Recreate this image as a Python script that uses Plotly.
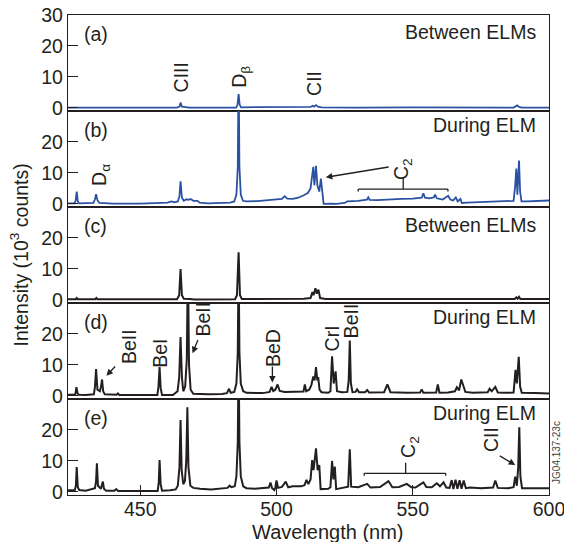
import plotly.graph_objects as go

# ---------------- data (wavelength nm, intensity 10^3 counts) ----------------
wl_a = [423.5, 440, 463.5, 464.4, 464.8, 465.3, 466, 467.5, 468, 485.2, 485.7, 486.1, 486.5, 487,
        510, 512.5, 513.3, 513.8, 514.5, 515.2, 516.5, 530, 550, 587, 588.3, 589, 590, 600]
int_a = [0.1, 0.1, 0.1, 0.4, 1.7, 0.4, 0.3, 0.3, 0.1, 0.1, 1.0, 4.5, 1.0, 0.2,
         0.2, 0.3, 0.7, 0.4, 0.9, 0.4, 0.2, 0.1, 0.2, 0.1, 0.8, 0.3, 0.1, 0.1]

wl_b = [423.5, 425.8, 426.3, 426.7, 427.1, 427.6, 432.8, 433.4, 433.8, 434.3, 435, 440, 450, 458, 460,
        461.5, 462.5, 463.8, 464.4, 464.8, 465.3, 466, 467, 467.8, 468.5, 469.5, 470.3, 471, 471.8, 473,
        475, 480, 483, 484.5, 485.3, 485.8, 486.1, 486.4, 486.9, 487.7, 489, 493, 497, 500, 502, 503,
        504, 506, 508, 510, 511.5, 512.5, 513, 513.5, 513.9, 514.5, 515, 515.7, 516.3, 516.8, 517.3,
        520, 522, 525, 526, 530, 533.2, 533.7, 534.2, 537, 540, 543, 546, 550, 553.3, 553.9, 554.5,
        556, 557.7, 558.2, 558.8, 561, 563, 563.8, 564.8, 565.8, 566.5, 567.5, 568, 570, 575, 580,
        585, 587, 587.6, 588.0, 588.4, 588.7, 589.0, 589.4, 589.9, 592, 596, 600]
int_b = [0.2, 0.2, 1.0, 4.0, 0.8, 0.2, 0.3, 1.5, 3.1, 1.2, 0.3, 0.1, 0.1, 0.2, 0.4,
         0.8, 0.5, 0.8, 2.5, 7.3, 2.0, 1.0, 1.5, 1.3, 1.6, 1.0, 0.9, 1.0, 0.4, 0.3,
         0.2, 0.3, 0.4, 0.8, 3.0, 12.0, 45.0, 12.0, 3.0, 1.0, 0.8, 0.9, 1.2, 1.4, 1.6, 2.5,
         1.7, 1.6, 2.0, 2.8, 3.5, 5.0, 8.0, 12.0, 6.0, 12.3, 6.0, 4.0, 8.2, 3.0, 0.0,
         0.1, 0.0, 0.3, 0.8, 1.0, 1.4, 2.1, 1.3, 1.2, 1.4, 1.5, 1.6, 1.7, 2.0, 3.4, 2.0,
         1.8, 2.1, 3.0, 1.8, 1.4, 2.6, 1.4, 1.1, 2.1, 0.8, 1.6, 0.3, 0.4, 0.6, 0.8,
         1.0, 1.0, 6.0, 11.4, 3.0, 8.0, 14.0, 4.0, 0.8, 0.8, 1.0, 1.1]

wl_c = [423.5, 426.3, 426.7, 427.1, 433.5, 433.9, 434.3, 450, 463.5, 464.3, 464.8, 465.3, 466, 468,
        470, 484.8, 485.5, 486.1, 486.6, 487.3, 500, 510, 512.5, 513.2, 513.6, 514.3, 514.8, 515.4,
        516, 518, 540, 560, 587.4, 588, 588.5, 589, 589.5, 600]
int_c = [0.2, 0.2, 0.6, 0.2, 0.2, 0.6, 0.2, 0.1, 0.2, 1.5, 10.0, 1.5, 0.4, 0.3,
         0.1, 0.2, 1.5, 15.4, 1.5, 0.3, 0.3, 0.4, 0.6, 2.5, 1.5, 3.8, 2.0, 3.3,
         0.6, 0.3, 0.3, 0.3, 0.3, 0.8, 0.4, 1.0, 0.3, 0.3]

wl_d = [423.5, 426, 426.3, 426.6, 427, 427.5, 430, 433, 433.4, 433.8, 434.3, 435.2, 435.6, 436, 436.4,
        437, 441.3, 441.8, 442.3, 450, 456.3, 456.7, 457.1, 457.5, 458, 462, 463.7, 464.3, 464.8,
        465.3, 465.8, 466.5, 467.1, 467.5, 467.9, 468.5, 469.5, 475, 480, 481.8, 482.6, 483.2, 484.5,
        485.3, 485.8, 486.1, 486.4, 486.9, 487.8, 489, 495, 497.5, 498.2, 498.8, 499.6, 500.4, 501.2,
        503, 508, 509.9, 510.4, 510.9, 512, 512.8, 513.5, 514.0, 514.5, 515.0, 515.3, 515.8, 516.5,
        519, 519.8, 520.4, 521, 521.7, 522.2, 524, 526, 526.5, 526.9, 527.3, 527.9, 529, 529.6, 530.3,
        532.5, 533.3, 534, 539.5, 540.7, 541.8, 548, 552.7, 553.3, 553.9, 558.6, 559.2, 559.8, 563,
        565.5, 566.2, 567, 567.8, 568.6, 569.3, 572, 577.5, 578.2, 579, 580.3, 581.2, 584, 587, 587.4,
        587.7, 588.2, 588.9, 589.4, 590, 595, 600]
int_d = [0.4, 0.4, 1.0, 2.8, 0.8, 0.4, 0.3, 0.5, 3.0, 8.7, 2.0, 1.5, 3.0, 5.3, 1.5,
         0.5, 0.4, 0.8, 0.3, 0.2, 0.3, 3.0, 9.3, 2.5, 0.3, 0.3, 1.5, 6.0, 19.0,
         6.0, 1.5, 3.0, 12.0, 45.0, 10.0, 2.0, 0.7, 0.5, 0.6, 0.9, 2.3, 1.0, 1.3,
         4.0, 14.0, 45.0, 14.0, 4.0, 1.5, 1.0, 0.9, 1.3, 2.9, 1.6, 2.0, 3.7, 1.6,
         1.3, 1.2, 1.4, 3.7, 1.5, 2.0, 3.5, 6.3, 5.0, 9.3, 5.0, 6.1, 2.0, 1.2,
         1.0, 1.5, 12.8, 4.0, 7.9, 1.5, 1.2, 1.3, 5.0, 17.9, 4.0, 1.2, 1.3, 2.1, 1.2,
         1.2, 1.9, 1.1, 1.2, 3.7, 1.2, 1.0, 1.1, 2.1, 1.0, 1.1, 3.7, 1.0, 1.1,
         1.5, 2.8, 1.8, 5.3, 3.2, 1.3, 1.0, 1.2, 2.3, 1.5, 2.9, 1.1, 1.0, 1.1, 5.0,
         8.4, 4.0, 12.6, 3.0, 1.0, 0.9, 0.8]

wl_e = [423.5, 426, 426.4, 426.7, 427.1, 427.6, 430, 433.4, 433.8, 434.1, 434.5, 435.6, 436.0, 436.3,
        436.7, 437.5, 440.5, 441.2, 441.9, 450, 456.4, 456.8, 457.1, 457.5, 458, 461, 463, 463.8, 464.4,
        464.8, 465.2, 465.8, 466.4, 466.9, 467.3, 467.7, 468.4, 469.5, 472, 476, 480, 482, 482.8, 483.5,
        484.7, 485.3, 485.8, 486.1, 486.4, 486.9, 487.8, 489, 492, 495, 497.2, 497.8, 498.4, 499.2,
        499.6, 500, 500.6, 502, 503.4, 504.3, 506, 509, 510.3, 511, 511.7, 512.5, 513.1, 513.6, 514.5,
        515.1, 515.7, 516.2, 519, 519.8, 520.4, 520.9, 521.4, 521.9, 524, 526.3, 526.9, 527.4, 530,
        533.3, 534.5, 538, 541.1, 542.5, 545, 547.8, 549.5, 551, 553.9, 555, 557, 558.8, 560, 561.3,
        562.3, 563.5, 564.3, 564.9, 565.7, 566.4, 567.2, 567.9, 568.7, 569.5, 571, 575, 579.5, 580.3,
        581.2, 585, 587, 587.6, 588.2, 588.7, 589.1, 589.5, 590.1, 595, 600]
int_e = [0.5, 0.6, 2.0, 8.0, 1.5, 0.6, 0.4, 1.2, 3.5, 9.2, 2.0, 1.0, 2.5, 3.3,
         1.0, 0.4, 0.4, 0.9, 0.3, 0.2, 0.3, 3.0, 10.3, 2.5, 0.4, 0.5, 0.8, 2.0, 8.0,
         23.2, 7.0, 2.5, 3.5, 10.0, 27.3, 8.0, 2.0, 1.3, 1.0, 0.8, 1.0, 1.3, 2.0, 1.5,
         1.8, 5.0, 16.0, 45.0, 16.0, 5.0, 1.8, 1.2, 1.0, 1.1, 1.4, 3.0, 1.2, 0.6,
         1.5, 3.7, 1.3, 1.6, 3.3, 1.5, 1.8, 1.8, 2.2, 3.9, 2.5, 4.0, 10.3, 7.0, 14.1,
         7.0, 8.7, 0.9, 1.0, 1.5, 10.0, 4.0, 8.2, 0.9, 1.3, 1.7, 13.8, 1.7, 1.5,
         2.6, 1.4, 1.6, 3.5, 1.5, 1.6, 2.6, 1.5, 1.4, 3.1, 1.6, 1.5, 2.8, 1.8, 3.1,
         1.4, 1.3, 3.8, 0.9, 3.9, 1.0, 3.8, 1.0, 3.7, 1.2, 1.4, 1.2, 1.4, 3.7,
         1.3, 1.2, 1.5, 4.9, 2.0, 8.0, 20.9, 5.0, 1.2, 1.2, 1.2]

panel_letters = ["(a)", "(b)", "(c)", "(d)", "(e)"]
panel_titles = ["Between ELMs", "During ELM", "Between ELMs", "During ELM", "During ELM"]
x_ticks = [450, 500, 550, 600]
y_ticks_top = [0, 10, 20, 30]
y_ticks = [0, 10, 20]

BLUE = "#2b51a3"
INK = "#231f20"
FONT = "Liberation Sans, Arial, sans-serif"
TS = 19.5  # main text size

series = [(wl_a, int_a, BLUE, 1.8), (wl_b, int_b, BLUE, 1.8), (wl_c, int_c, INK, 2.0),
          (wl_d, int_d, INK, 2.0), (wl_e, int_e, INK, 2.0)]
domains = [[0.8, 1.0], [0.6, 0.8], [0.4, 0.6], [0.2, 0.4], [0.0, 0.2]]

fig = go.Figure()
layout = {}
for i, (wl, iv, col, lw) in enumerate(series):
    n = "" if i == 0 else str(i + 1)
    fig.add_trace(go.Scatter(x=wl, y=iv, mode="lines", line=dict(color=col, width=lw),
                             xaxis="x" + n, yaxis="y" + n, showlegend=False, hoverinfo="skip"))
    layout["xaxis" + n] = dict(domain=[0, 1], anchor="y" + n, range=[423.5, 600],
                               showline=True, mirror=True, linecolor=INK, linewidth=1.3,
                               showgrid=False, zeroline=False, automargin=False,
                               tickvals=x_ticks if i == 4 else [],
                               ticks="inside" if i == 4 else "", ticklen=10, tickcolor=INK,
                               tickwidth=1.2, showticklabels=(i == 4),
                               ticklabeloverflow="allow", ticklabelstandoff=-4,
                               tickfont=dict(size=TS, color=INK, family=FONT))
    layout["yaxis" + n] = dict(domain=domains[i], anchor="x" + n, range=[-1, 30],
                               showline=True, mirror=True, linecolor=INK, linewidth=1.3,
                               showgrid=False, zeroline=False, automargin=False,
                               tickvals=y_ticks_top if i == 0 else y_ticks,
                               ticks="inside", ticklen=10, tickcolor=INK, tickwidth=1.2,
                               ticklabeloverflow="allow",
                               tickfont=dict(size=TS, color=INK, family=FONT))

ann = []
title_y = [0.82, 0.85, 0.81, 0.85, 0.85]
for i in range(5):
    n = "" if i == 0 else str(i + 1)
    ann.append(dict(text=panel_letters[i], xref="x" + n + " domain", yref="y" + n + " domain",
                    x=0.03, y=0.80, xanchor="left", yanchor="middle", showarrow=False,
                    font=dict(size=TS, color=INK, family=FONT)))
    ann.append(dict(text=panel_titles[i], xref="x" + n + " domain", yref="y" + n + " domain",
                    x=0.978, y=title_y[i], xanchor="right", yanchor="middle", showarrow=False,
                    font=dict(size=TS, color=INK, family=FONT)))


def label(text, n, x, y):
    ann.append(dict(text=text, xref="x" + n, yref="y" + n, x=x, y=y, textangle=-90,
                    xanchor="center", yanchor="middle", showarrow=False,
                    font=dict(size=TS, color=INK, family=FONT)))


def arrow(n, x0, y0, x1, y1):
    ann.append(dict(text="", xref="x" + n, yref="y" + n, axref="x" + n, ayref="y" + n,
                    x=x1, y=y1, ax=x0, ay=y0, showarrow=True, arrowhead=2, arrowsize=1,
                    arrowwidth=1.3, arrowcolor=INK))


# panel (a)
label("CIII", "", 464.8, 9.7)
label("D<sub>β</sub>", "", 486.9, 10.0)
label("CII", "", 513.7, 8.0)
# panel (b)
label("D<sub>α</sub>", "2", 435.4, 9.5)
label("C<sub>2</sub>", "2", 546.2, 11.4)
arrow("2", 541.7, 12.0, 518.1, 8.6)
# panel (d)
label("BeII", "4", 445.9, 15.8)
arrow("4", 441.3, 10.0, 437.6, 6.5)
label("BeI", "4", 457.5, 13.8)
label("BeII", "4", 473.1, 24.7)
arrow("4", 471.4, 18.5, 469.2, 13.8)
label("BeD", "4", 498.8, 15.5)
arrow("4", 498.5, 10.0, 498.5, 4.3)
label("CrI", "4", 520.2, 18.4)
label("BeII", "4", 527.5, 24.2)
# panel (e)
label("C<sub>2</sub>", "5", 548.6, 14.5)
label("CII", "5", 578.8, 16.8)
arrow("5", 581.4, 11.9, 587.6, 8.7)

# axis titles and stamp
ann.append(dict(text="Wavelength (nm)", xref="paper", yref="paper", x=0.54, y=-0.077,
                xanchor="center", yanchor="middle", showarrow=False,
                font=dict(size=TS + 0.5, color=INK, family=FONT)))
ann.append(dict(text="Intensity (10<sup>3</sup> counts)", xref="paper", yref="paper",
                x=-0.101, y=0.5, textangle=-90, xanchor="center", yanchor="middle",
                showarrow=False, font=dict(size=TS, color=INK, family=FONT)))
ann.append(dict(text="JG04.137-23c", xref="paper", yref="paper", x=1.017, y=0.088,
                textangle=-90, xanchor="center", yanchor="middle", showarrow=False,
                font=dict(size=10, color="#444444", family=FONT)))

# brackets (C2 bands)
shapes = []
def bracket(n, x0, x1, y, yend, xm, ytop):
    for (a, b, c, d) in [(x0, y, x1, y), (x0, y, x0, yend), (x1, y, x1, yend), (xm, y, xm, ytop)]:
        shapes.append(dict(type="line", xref="x" + n, yref="y" + n, x0=a, y0=b, x1=c, y1=d,
                           line=dict(color=INK, width=1.3)))

bracket("2", 530.0, 562.9, 4.8, 4.0, 546.5, 8.4)
bracket("5", 532.2, 562.1, 6.0, 5.2, 547.4, 9.4)

fig.update_layout(**layout)
fig.update_layout(annotations=ann, shapes=shapes, width=564, height=542,
                  margin=dict(l=68, r=15, t=15, b=47), plot_bgcolor="white",
                  paper_bgcolor="white", font=dict(family=FONT, color=INK))
fig.write_html("out.html", config={"displayModeBar": False},
               post_script="document.body.style.margin='0px';")
